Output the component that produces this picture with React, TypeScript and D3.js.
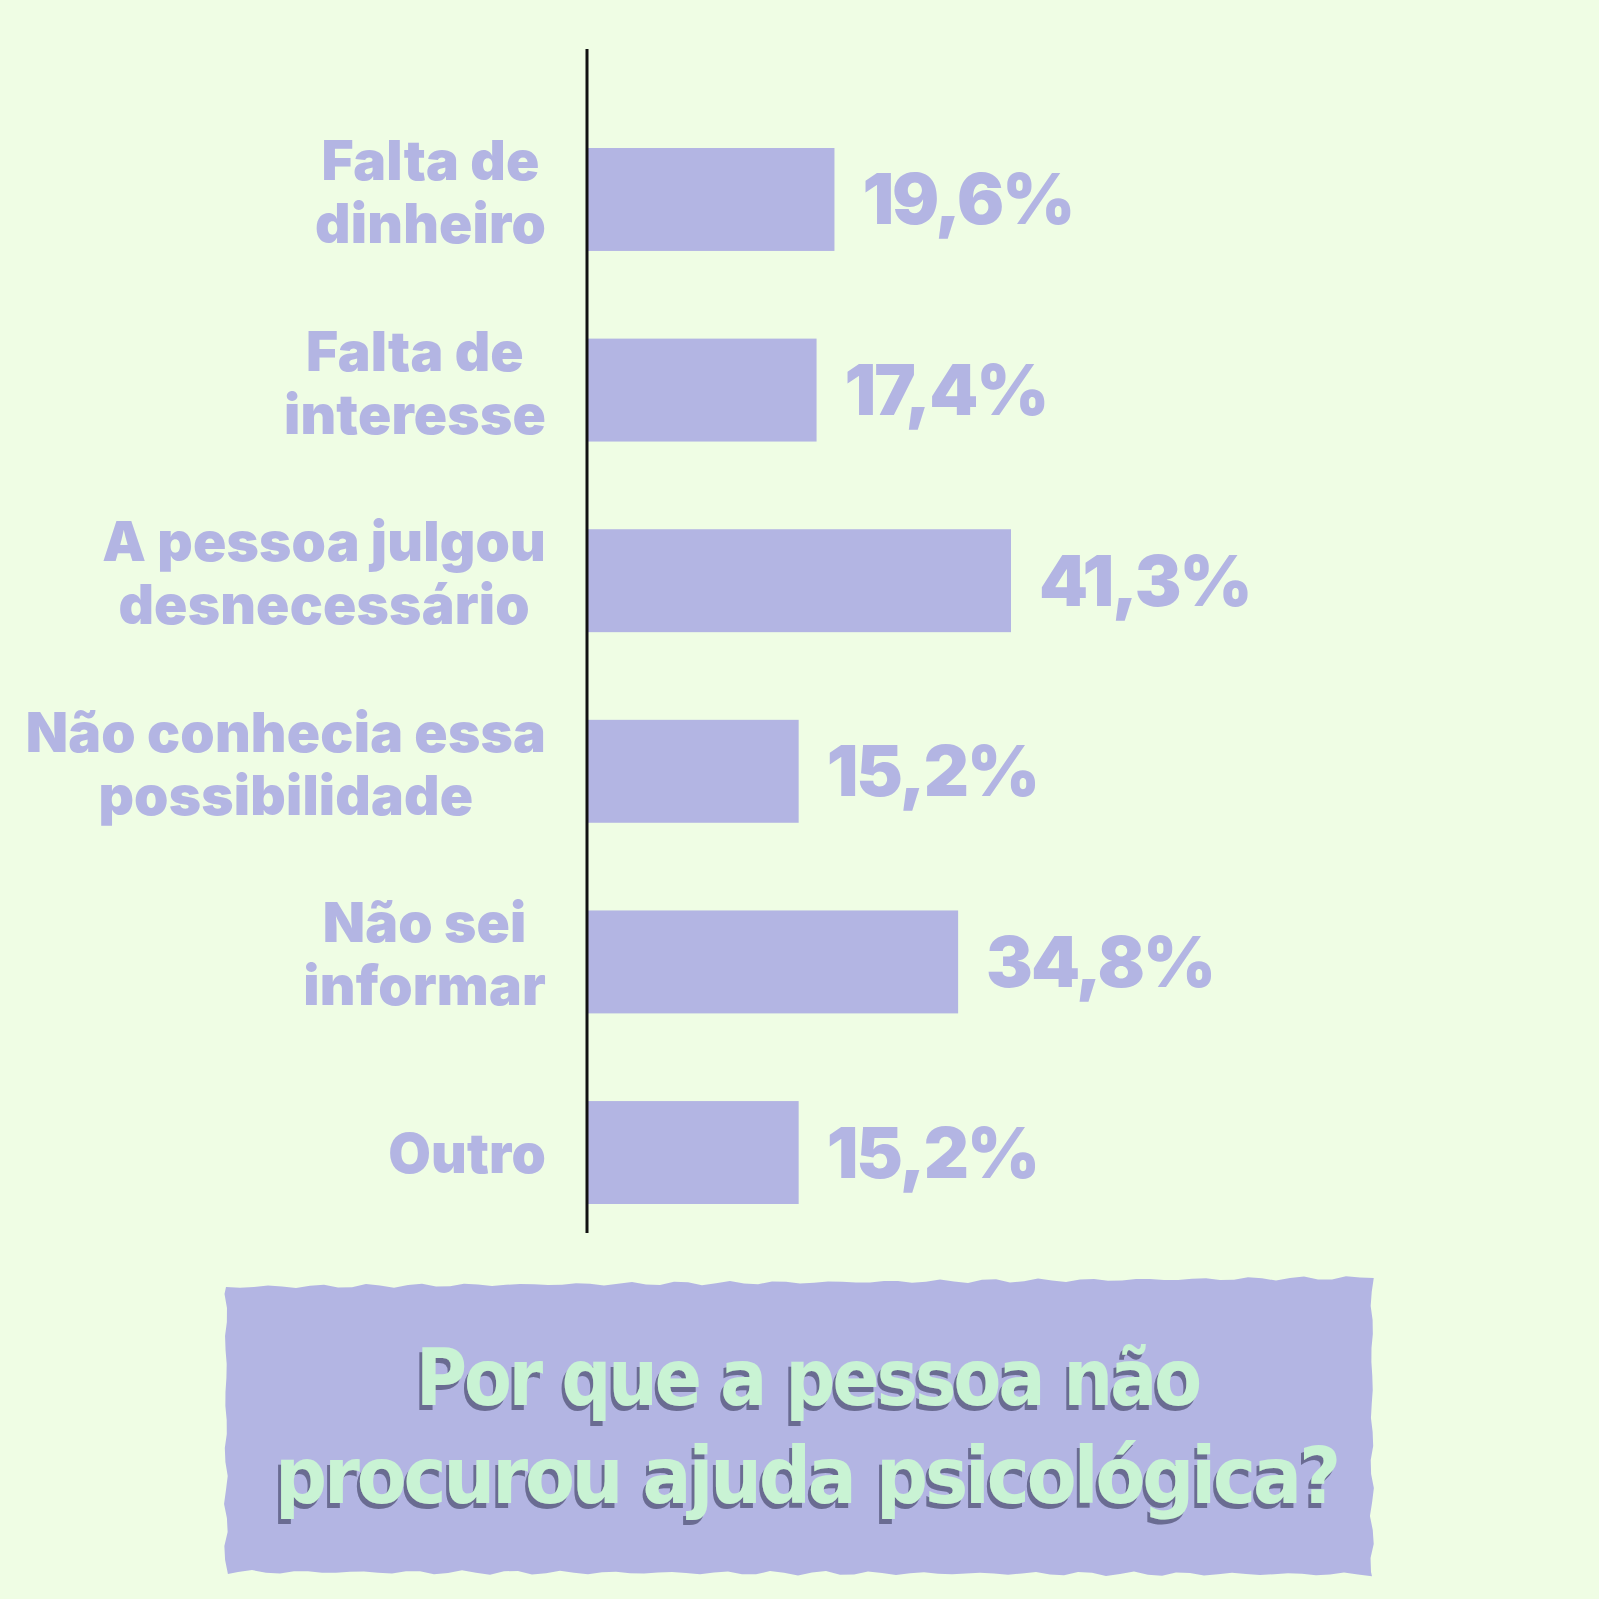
import { useEffect, useRef } from 'react';
import * as d3 from 'd3';

// Why didn't the person seek psychological help?
const categories = [
  'Falta de\ndinheiro',
  'Falta de\ninteresse',
  'A pessoa julgou\ndesnecessário',
  'Não conhecia essa\npossibilidade',
  'Não sei\ninformar',
  'Outro',
];
const values = [19.6, 17.4, 41.3, 15.2, 34.8, 15.2];
const titleLines = ['Por que a pessoa não', 'procurou ajuda psicológica?'];

const BG = '#effde4';
const PURPLE = '#b3b5e3';
const MINT = '#c9f3d4';
const SHADOW = '#6a6c92';

const fmt = (v: number) => v.toFixed(1).replace('.', ',') + '%';

export default function App() {
  const svgRef = useRef<SVGSVGElement>(null);

  useEffect(() => {
    if (!svgRef.current) return;
    document.body.style.margin = '0';
    const svg = d3.select(svgRef.current);
    svg.selectAll('*').remove();

    const W = 1599, H = 1599;
    const axisX = 587;

    svg.append('rect').attr('width', W).attr('height', H).attr('fill', BG);

    const defs = svg.append('defs');
    const f = defs.append('filter').attr('id', 'tshadow')
      .attr('x', '-5%').attr('y', '-20%').attr('width', '110%').attr('height', '140%');
    f.append('feFlood').attr('flood-color', SHADOW).attr('result', 'c');
    f.append('feComposite').attr('in', 'c').attr('in2', 'SourceAlpha').attr('operator', 'in').attr('result', 's');
    f.append('feOffset').attr('in', 's').attr('dx', -3).attr('dy', 5).attr('result', 'o');
    const mg = f.append('feMerge');
    mg.append('feMergeNode').attr('in', 'o');
    mg.append('feMergeNode').attr('in', 'SourceGraphic');

    const y = d3.scaleBand<number>()
      .domain(d3.range(categories.length))
      .range([148, 1204])
      .paddingInner(0.46)
      .paddingOuter(0);

    // bar length from the axis
    const x = d3.scaleLinear().domain([0, 41.3]).range([88, 424]);

    const g = svg.append('g');

    g.selectAll('rect.bar')
      .data(values)
      .enter()
      .append('rect')
      .attr('class', 'bar')
      .attr('x', axisX)
      .attr('y', (_, i) => y(i)!)
      .attr('width', d => x(d))
      .attr('height', y.bandwidth())
      .attr('fill', PURPLE);

    // value labels
    g.selectAll('text.val')
      .data(values)
      .enter()
      .append('text')
      .attr('class', 'val')
      .attr('x', d => axisX + x(d) + 28)
      .attr('y', (_, i) => y(i)! + y.bandwidth() / 2 + 25)
      .attr('fill', PURPLE)
      .attr('font-family', 'Inter, "Noto Sans", sans-serif')
      .attr('font-weight', 900)
      .attr('font-size', 70)
      .attr('letter-spacing', -2)
      .text(d => fmt(d));

    // category labels: block right-aligned, lines centered within block
    const labelRight = 546;
    const lineH = 63;
    categories.forEach((c, i) => {
      const lines = c.split('\n');
      const cy = y(i)! + y.bandwidth() / 2;
      const shift = lines.length > 1 ? -8 : 0;
      const grp = g.append('g');
      const texts = lines.map((ln, j) =>
        grp.append('text')
          .attr('y', cy + 20 + (j - (lines.length - 1) / 2) * lineH + shift)
          .attr('text-anchor', 'middle')
          .attr('fill', PURPLE)
          .attr('font-family', 'Inter, "Noto Sans", sans-serif')
          .attr('font-weight', 900)
          .attr('font-size', 55)
          .attr('letter-spacing', 0.2)
          .text(ln)
      );
      const maxW = d3.max(texts, t => (t.node() as SVGTextElement).getComputedTextLength()) ?? 0;
      texts.forEach(t => t.attr('x', labelRight - maxW / 2));
    });

    // axis line
    g.append('line')
      .attr('x1', axisX).attr('x2', axisX)
      .attr('y1', 49).attr('y2', 1233)
      .attr('stroke', '#111').attr('stroke-width', 3);

    // rough-edged title box
    const L = 226, R = 1372;
    const pts: [number, number][] = [];
    const jit = (k: number, a: number) => Math.sin(k * 1.7) * a + Math.sin(k * 4.3) * a * 0.5;
    let k = 0;
    for (let px = L; px <= R; px += 14) pts.push([px, 1287 - (px - L) * 0.008 + jit(k++, 1.4)]);
    for (let py = 1278; py <= 1572; py += 14) pts.push([R + jit(k++, 1.4), py]);
    for (let px = R; px >= L; px -= 14) pts.push([px, 1572 + (px - L) * 0.002 + jit(k++, 1.6)]);
    for (let py = 1574; py >= 1287; py -= 14) pts.push([L + jit(k++, 1.4), py]);
    svg.append('path')
      .attr('d', d3.line()(pts) + 'Z')
      .attr('fill', PURPLE);

    const titleSpecs = [
      { x0: 416, x1: 1199, base: 1405 },
      { x0: 275, x1: 1338, base: 1503 },
    ];
    titleLines.forEach((t, i) => {
      const s = titleSpecs[i];
      svg.append('text')
        .attr('x', s.x0)
        .attr('y', s.base)
        .attr('textLength', s.x1 - s.x0)
        .attr('lengthAdjust', 'spacingAndGlyphs')
        .attr('fill', MINT)
        .attr('filter', 'url(#tshadow)')
        .attr('font-family', '"DejaVu Sans Condensed", "Liberation Sans Narrow", sans-serif')
        .attr('font-weight', 700)
        .attr('font-size', 78)
        .attr('letter-spacing', -3)
        .text(t);
    });
  }, []);

  return <svg ref={svgRef} width={1599} height={1599} style={{ display: 'block' }} />;
}
